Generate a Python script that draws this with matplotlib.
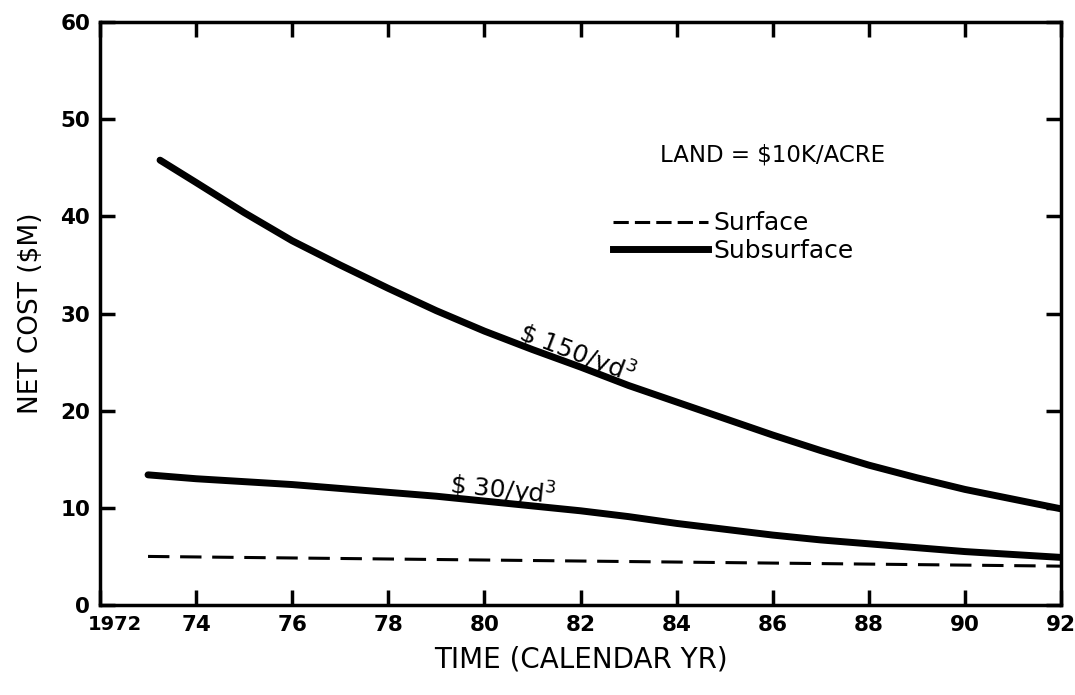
import matplotlib
matplotlib.use("Agg")
import matplotlib.pyplot as plt
import matplotlib.transforms as mtransforms
from matplotlib.lines import Line2D

# Data
years_150 = [1973.25, 1974, 1975, 1976, 1977, 1978, 1979, 1980, 1981, 1982,
             1983, 1984, 1985, 1986, 1987, 1988, 1989, 1990, 1991, 1992]
cost_150 = [45.8, 43.5, 40.4, 37.5, 35.0, 32.6, 30.3, 28.2, 26.3, 24.5,
            22.6, 20.9, 19.2, 17.5, 15.9, 14.4, 13.1, 11.9, 10.9, 9.9]
years_30 = [1973.0, 1974, 1975, 1976, 1977, 1978, 1979, 1980, 1981, 1982,
            1983, 1984, 1985, 1986, 1987, 1988, 1989, 1990, 1991, 1992]
cost_30 = [13.4, 13.0, 12.7, 12.4, 12.0, 11.6, 11.2, 10.7, 10.2, 9.7,
           9.1, 8.4, 7.8, 7.2, 6.7, 6.3, 5.9, 5.5, 5.2, 4.9]
years_surf = [1973.0, 1992]
cost_surf = [5.0, 4.0]

xticks = [1972, 1974, 1976, 1978, 1980, 1982, 1984, 1986, 1988, 1990, 1992]
xticklabels = ["1972", "74", "76", "78", "80", "82", "84", "86", "88", "90", "92"]
yticks = [0, 10, 20, 30, 40, 50, 60]

fig = plt.figure(figsize=(10.75, 6.95), dpi=100)
ax = fig.add_axes([0.093, 0.1295, 0.894, 0.8385])

ax.plot(years_150, cost_150, color="black", lw=5, solid_capstyle="round",
        solid_joinstyle="round")
ax.plot(years_30, cost_30, color="black", lw=5, solid_capstyle="round",
        solid_joinstyle="round")
ax.plot(years_surf, cost_surf, color="black", lw=2.2, dashes=(7, 3.5))

ax.set_xlim(1972, 1992)
ax.set_ylim(0, 60)
ax.set_xticks(xticks)
ax.set_xticklabels(xticklabels)
ax.set_yticks(yticks)

for s in ax.spines.values():
    s.set_linewidth(2.5)

ax.tick_params(axis="both", direction="in", length=11, width=2.5,
               top=True, right=True, labelsize=15.5, pad=7)
for lab in ax.get_xticklabels() + ax.get_yticklabels():
    lab.set_fontweight("bold")

# shift the "1972" label right so it clears the "0" label, as in the original
first = ax.get_xticklabels()[0]
first.set_fontsize(14)
first.set_transform(first.get_transform() +
                    mtransforms.ScaledTranslation(15 / 100, 0, fig.dpi_scale_trans))

ax.set_xlabel("TIME (CALENDAR YR)", fontsize=20, labelpad=8)
ax.set_ylabel("NET COST ($M)", fontsize=19, labelpad=12)

ax.text(1980.68, 27.3, r"\$ 150/yd$^3$", fontsize=18, rotation=-21,
        ha="left", va="baseline", rotation_mode="anchor")
ax.text(1979.26, 11.5, r"\$ 30/yd$^3$", fontsize=18, rotation=-6,
        ha="left", va="baseline", rotation_mode="anchor")

ax.text(1983.65, 46.3, "LAND = $10K/ACRE", fontsize=16.5, ha="left", va="center")

handles = [Line2D([0], [0], color="black", lw=2.2, dashes=(5, 2)),
           Line2D([0], [0], color="black", lw=5)]
ax.legend(handles, ["Surface", "Subsurface"], loc="center left",
          bbox_to_anchor=(0.534, 0.631), frameon=False, fontsize=18,
          handlelength=3.8, handletextpad=0.2, labelspacing=0.15,
          borderaxespad=0, borderpad=0)

fig.savefig("out.png", dpi=100)
